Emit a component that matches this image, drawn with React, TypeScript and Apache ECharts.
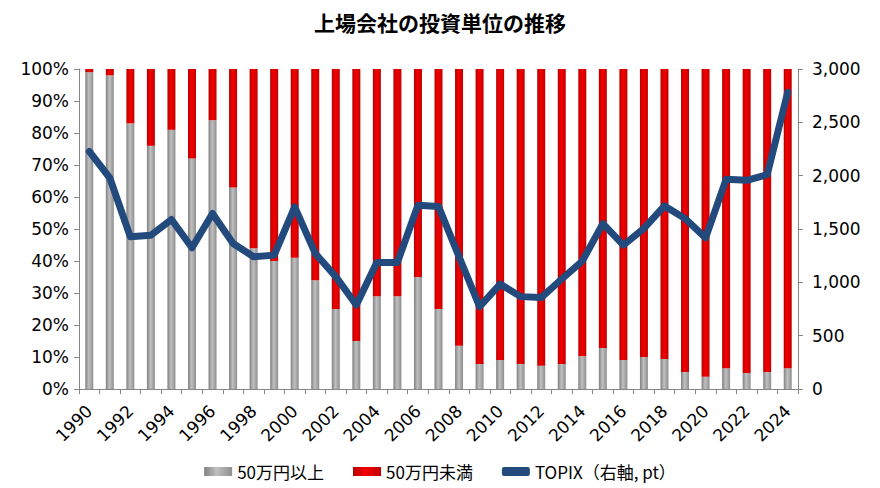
import React, { useEffect, useRef } from "react";
import * as echarts from "echarts";

const years = [
  "1990","1991","1992","1993","1994","1995","1996","1997","1998","1999",
  "2000","2001","2002","2003","2004","2005","2006","2007","2008","2009",
  "2010","2011","2012","2013","2014","2015","2016","2017","2018","2019",
  "2020","2021","2022","2023","2024",
];
const over500k = [
  99, 98, 83, 76, 81, 72, 84, 63, 44, 40,
  41, 34, 25, 15, 29, 29, 35, 25, 13.5, 7.8,
  9.1, 7.8, 7.3, 7.8, 10.2, 12.8, 9.1, 10, 9.4, 5.3,
  3.8, 6.5, 5, 5.3, 6.5,
];
const under500k = [
  1, 2, 17, 24, 19, 28, 16, 37, 56, 60,
  59, 66, 75, 85, 71, 71, 65, 75, 86.5, 92.2,
  90.9, 92.2, 92.7, 92.2, 89.8, 87.2, 90.9, 90, 90.6, 94.7,
  96.2, 93.5, 95, 94.7, 93.5,
];
const topix = [
  2227, 1978, 1427, 1442, 1589, 1324, 1645, 1364, 1240, 1255,
  1707, 1271, 1053, 788, 1187, 1187, 1723, 1712, 1240, 772,
  984, 866, 857, 1031, 1199, 1551, 1349, 1505, 1716, 1598,
  1417, 1966, 1956, 2009, 2782,
];

const NAME_GRAY = "50万円以上";
const NAME_RED = "50万円未満";
const NAME_LINE = "TOPIX（右軸, pt）";

export default function App() {
  const ref = useRef<HTMLDivElement>(null);
  useEffect(() => {
    document.body.style.margin = "0";
    if (!ref.current) return;
    const chart = echarts.init(ref.current, undefined, { renderer: "svg" });
    const grayGrad = new echarts.graphic.LinearGradient(0, 0, 1, 0, [
      { offset: 0, color: "#808080" },
      { offset: 0.45, color: "#c0c0c0" },
      { offset: 1, color: "#8e8e8e" },
    ]);
    const redGrad = new echarts.graphic.LinearGradient(0, 0, 1, 0, [
      { offset: 0, color: "#b80000" },
      { offset: 0.45, color: "#f20000" },
      { offset: 1, color: "#c40000" },
    ]);
    const axisLabelFont = { fontFamily: "DejaVu Sans", fontSize: 17, color: "#000" };
    chart.setOption({
      animation: false,
      title: {
        text: "上場会社の投資単位の推移",
        left: "center",
        top: 6,
        textStyle: { fontFamily: "Noto Sans CJK JP", fontSize: 21, fontWeight: "bold", color: "#000" },
      },
      legend: {
        bottom: 3,
        left: "center",
        itemWidth: 28,
        itemHeight: 9,
        itemGap: 29,
        textStyle: { fontFamily: "Noto Sans CJK JP", fontSize: 17, color: "#000" },
        data: [
          { name: NAME_GRAY, icon: "rect" },
          { name: NAME_RED, icon: "rect" },
          { name: NAME_LINE, icon: "roundRect" },
        ],
      },
      grid: { left: 79, right: 82, top: 69, bottom: 99 },
      xAxis: {
        type: "category",
        data: years,
        boundaryGap: true,
        axisLine: { lineStyle: { color: "#868686", width: 1 } },
        axisTick: { show: true, interval: 0, length: 5, lineStyle: { color: "#868686" } },
        axisLabel: { ...axisLabelFont, interval: 1, rotate: 45, margin: 19 },
      },
      yAxis: [
        {
          type: "value",
          min: 0,
          max: 100,
          interval: 10,
          splitLine: { show: false },
          axisLine: { show: true, lineStyle: { color: "#868686" } },
          axisTick: { show: true, length: 5, lineStyle: { color: "#868686" } },
          axisLabel: { ...axisLabelFont, formatter: "{value}%", margin: 10 },
        },
        {
          type: "value",
          min: 0,
          max: 3000,
          interval: 500,
          splitLine: { show: false },
          axisLine: { show: true, lineStyle: { color: "#868686" } },
          axisTick: { show: true, length: 5, lineStyle: { color: "#868686" } },
          axisLabel: {
            ...axisLabelFont,
            margin: 14,
            formatter: (v: number) => v.toLocaleString("en-US"),
          },
        },
      ],
      series: [
        {
          name: NAME_GRAY,
          type: "bar",
          stack: "share",
          barWidth: 8,
          data: over500k,
          itemStyle: { color: grayGrad },
        },
        {
          name: NAME_RED,
          type: "bar",
          stack: "share",
          barWidth: 8,
          data: under500k,
          itemStyle: { color: redGrad },
        },
        {
          name: NAME_LINE,
          type: "line",
          yAxisIndex: 1,
          data: topix,
          symbol: "none",
          lineStyle: { color: "#224a7c", width: 7, cap: "round", join: "round" },
          itemStyle: { color: "#224a7c" },
          z: 5,
        },
      ],
    });
    return () => chart.dispose();
  }, []);
  return <div ref={ref} style={{ width: 880, height: 488 }} />;
}
